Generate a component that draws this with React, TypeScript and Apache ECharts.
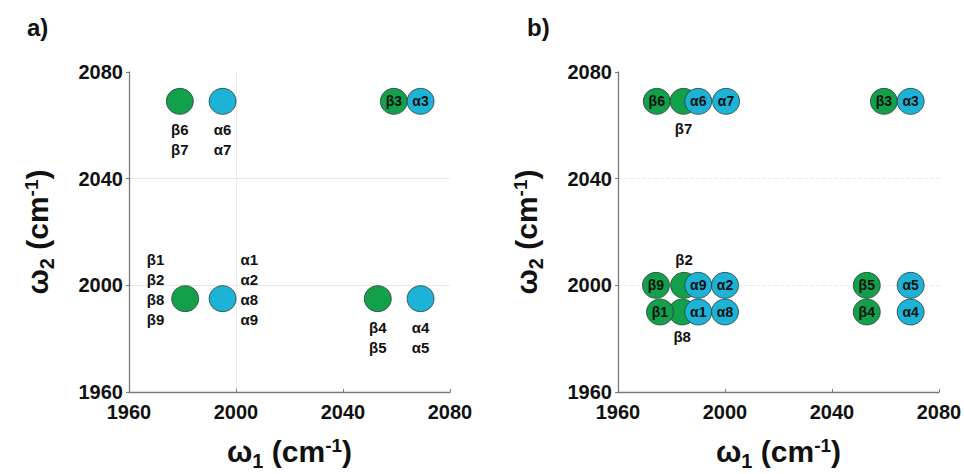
import React, { useEffect, useRef } from "react";
import * as echarts from "echarts";

// ---- data ----
const axisTicks = [1960, 2000, 2040, 2080];

// panel a
const aBetaNames = ["β1\nβ2\nβ8\nβ9", "β6\nβ7", "β3", "β4\nβ5"];
const aBetaX = [1981, 1979, 2059, 2053];
const aBetaY = [1995, 2069, 2069, 1995];
const aAlphaNames = ["α1\nα2\nα8\nα9", "α6\nα7", "α3", "α4\nα5"];
const aAlphaX = [1995, 1995, 2069, 2069];
const aAlphaY = [1995, 2069, 2069, 1995];

// panel b
const bBetaNames = ["β6", "β7", "β3", "β9", "β2", "β8", "β1", "β5", "β4"];
const bBetaX = [1974.5, 1984.5, 2059.4, 1974.2, 1984.7, 1984, 1975.7, 2053, 2053];
const bBetaY = [2069, 2069, 2069, 2000, 2000, 1990, 1990, 2000, 1990];
const bAlphaNames = ["α6", "α7", "α3", "α9", "α2", "α1", "α8", "α5", "α4"];
const bAlphaX = [1990, 2000.4, 2069.4, 1990, 2000, 1990, 2000, 2069.4, 2069.4];
const bAlphaY = [2069, 2069, 2069, 2000, 2000, 1990, 1990, 2000, 1990];

// ---- styles ----
const FONT = "'Liberation Sans', Arial, Helvetica, sans-serif";
const GREEN = "#12a04a";
const BLUE = "#1cb3d6";
const TXT = "#111";

const labelPlacement: Record<string, any> = {
  "β1\nβ2\nβ8\nβ9": { position: "left", distance: 7, offset: [0, -9] },
  "α1\nα2\nα8\nα9": { position: "right", distance: 4, offset: [0, -9] },
  "β6\nβ7": { position: "bottom", distance: 5 },
  "α6\nα7": { position: "bottom", distance: 5 },
  "β4\nβ5": { position: "bottom", distance: 5 },
  "α4\nα5": { position: "bottom", distance: 5 },
  "β7": { position: "bottom", distance: 4 },
  "β2": { position: "top", distance: 2 },
  "β8": { position: "bottom", distance: 1 },
};

function makeData(names: string[], xs: number[], ys: number[]) {
  return names.map((n, i) => {
    const p = labelPlacement[n];
    const label = p
      ? { show: true, ...p, fontSize: 15, lineHeight: 20 }
      : { show: true, position: "inside", fontSize: 14 };
    return { name: n, value: [xs[i], ys[i]], label };
  });
}

function axisTitle(sub: string) {
  return `{w|ω}{sub|${sub}}{w| (cm}{sup|-1}{w|)}`;
}
const titleRich = {
  w: { fontSize: 30, fontWeight: "bold", fontFamily: FONT, color: TXT, verticalAlign: "top" },
  sub: { fontSize: 20, fontWeight: "bold", fontFamily: FONT, color: TXT, verticalAlign: "top", padding: [15, 0, 0, 0] },
  sup: { fontSize: 19, fontWeight: "bold", fontFamily: FONT, color: TXT, verticalAlign: "top" },
};

function xAxisFor(gridIndex: number) {
  return {
    type: "value",
    gridIndex,
    min: axisTicks[0],
    max: axisTicks[axisTicks.length - 1],
    interval: axisTicks[1] - axisTicks[0],
    name: axisTitle("1"),
    nameLocation: "middle",
    nameGap: 44,
    nameTextStyle: { rich: titleRich },
    axisLine: { show: true, onZero: false, lineStyle: { color: "#7a7a7a", width: 1.3 } },
    axisTick: { show: true, inside: true, length: 3, lineStyle: { color: "#7a7a7a" } },
    axisLabel: { fontSize: 20, fontWeight: "bold", fontFamily: FONT, color: TXT, margin: 10, formatter: (v: number) => String(v) },
    splitLine: {
      show: true,
      lineStyle: { color: ["transparent", gridIndex === 0 ? "#ececec" : "transparent", "transparent", "transparent"], width: 1 },
    },
  };
}

function yAxisFor(gridIndex: number) {
  return {
    type: "value",
    gridIndex,
    min: axisTicks[0],
    max: axisTicks[axisTicks.length - 1],
    interval: axisTicks[1] - axisTicks[0],
    name: axisTitle("2"),
    nameLocation: "middle",
    nameRotate: 90,
    nameGap: 72,
    nameTextStyle: { rich: titleRich },
    axisLine: { show: true, onZero: false, lineStyle: { color: "#7a7a7a", width: 1.3 } },
    axisTick: { show: true, inside: false, length: 3, lineStyle: { color: "#7a7a7a" } },
    axisLabel: { fontSize: 20, fontWeight: "bold", fontFamily: FONT, color: TXT, margin: 6, formatter: (v: number) => String(v) },
    splitLine: {
      show: true,
      lineStyle: { color: ["transparent", "#e8e8e8", "#e8e8e8", "transparent"], width: 1, type: gridIndex === 1 ? "dashed" : "solid" },
    },
  };
}

function scatter(gridIndex: number, color: string, data: any[], z: number) {
  return {
    type: "scatter",
    xAxisIndex: gridIndex,
    yAxisIndex: gridIndex,
    symbol: "circle",
    symbolSize: [27, 26],
    z,
    itemStyle: { color, borderColor: "#2b3b35", borderWidth: 0.8, opacity: 1 },
    label: { show: true, fontFamily: FONT, fontWeight: "bold", color: TXT, formatter: "{b}" },
    emphasis: { disabled: true },
    data,
  };
}

export default function App() {
  const ref = useRef<HTMLDivElement>(null);
  useEffect(() => {
    document.body.style.margin = "0";
    const chart = echarts.init(ref.current!, undefined, { renderer: "svg" });
    chart.setOption({
      animation: false,
      backgroundColor: "#ffffff",
      grid: [
        { left: 129, top: 72, width: 321, height: 320, containLabel: false, outerBoundsMode: "none" },
        { left: 618, top: 72, width: 321, height: 320, containLabel: false, outerBoundsMode: "none" },
      ],
      xAxis: [xAxisFor(0), xAxisFor(1)],
      yAxis: [yAxisFor(0), yAxisFor(1)],
      series: [
        scatter(0, GREEN, makeData(aBetaNames, aBetaX, aBetaY), 2),
        scatter(0, BLUE, makeData(aAlphaNames, aAlphaX, aAlphaY), 3),
        scatter(1, GREEN, makeData(bBetaNames, bBetaX, bBetaY), 2),
        scatter(1, BLUE, makeData(bAlphaNames, bAlphaX, bAlphaY), 3),
      ],
      graphic: [
        { type: "text", left: 27, top: 15, style: { text: "a)", font: `bold 24px ${FONT}`, fill: TXT } },
        { type: "text", left: 527, top: 15, style: { text: "b)", font: `bold 24px ${FONT}`, fill: TXT } },
      ],
    });
    return () => chart.dispose();
  }, []);
  return <div ref={ref} style={{ position: "absolute", left: 0, top: 0, width: 964, height: 474 }} />;
}
